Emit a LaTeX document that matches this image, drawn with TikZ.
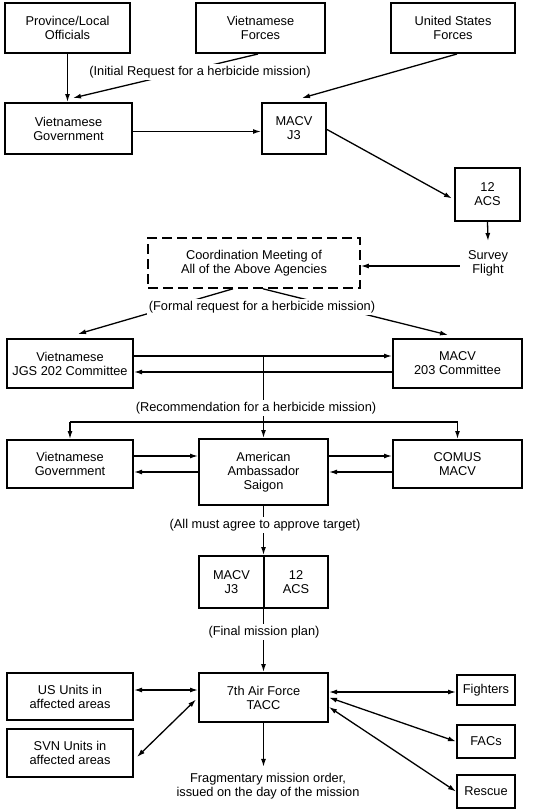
\documentclass[tikz,border=0pt]{standalone}
\usepackage{fontspec}
\setmainfont{Liberation Sans}
\usetikzlibrary{arrows.meta,calc}
\begin{document}
\begin{tikzpicture}[x=1pt,y=-1pt,
  every node/.style={font=\fontsize{12.8}{14}\selectfont, align=center},
  box/.style={draw, line width=2pt, inner sep=1pt},
  dbox/.style={draw, line width=1.6pt, dash pattern=on 10pt off 5pt, inner sep=1pt},
  lbl/.style={fill=white, inner sep=2pt},
  conn/.style={line width=1.3pt},
  arr/.style={conn, -{Latex[length=8pt,width=5pt]}},
  darr/.style={conn, {Latex[length=8pt,width=5pt]}-{Latex[length=8pt,width=5pt]}}
]
\useasboundingbox (0,0) rectangle (548,811);
% boxes
\node[box, minimum width=125, minimum height=50] (pl) at (67.5,28) {Province/Local\\Officials};
\node[box, minimum width=129, minimum height=50] (vf) at (260.5,28) {Vietnamese\\Forces};
\node[box, minimum width=124, minimum height=50] (us) at (453,28) {United States\\Forces};
\node[box, minimum width=127, minimum height=51] (vg1) at (68.5,128.5) {Vietnamese\\Government};
\node[box, minimum width=64, minimum height=51] (j3) at (294,128.5) {MACV\\J3};
\node[box, minimum width=65, minimum height=53] (acs) at (487.5,194.5) {12\\ACS};
\node[inner xsep=8pt, inner ysep=9pt] (sf) at (488,263) {Survey\\Flight};
\node[dbox, minimum width=212, minimum height=50] (cm) at (254,263) {Coordination Meeting of\\All of the Above Agencies};
\node[box, minimum width=126, minimum height=49] (jgs) at (70,363.5) {Vietnamese\\JGS 202 Committee};
\node[box, minimum width=129, minimum height=49] (m203) at (457.5,363.5) {MACV\\203 Committee};
\node[box, minimum width=126, minimum height=48] (vg2) at (70,464) {Vietnamese\\Government};
\node[box, minimum width=129, minimum height=66] (amb) at (263.5,472) {American\\Ambassador\\Saigon};
\node[box, minimum width=129, minimum height=48] (com) at (457.5,464) {COMUS\\MACV};
\node[box, minimum width=65, minimum height=52] (mjL) at (231.5,582) {MACV\\J3};
\node[box, minimum width=64, minimum height=52] (mjR) at (296,582) {12\\ACS};
\node[box, minimum width=129, minimum height=49] (af) at (263.5,697.5) {7th Air Force\\TACC};
\node[box, minimum width=126, minimum height=47] (usu) at (70,696.5) {US Units in\\affected areas};
\node[box, minimum width=126, minimum height=48] (svn) at (70,753) {SVN Units in\\affected areas};
\node[box, minimum width=58, minimum height=30] (fig) at (486,690) {Fighters};
\node[box, minimum width=58, minimum height=33] (fac) at (486,741.5) {FACs};
\node[box, minimum width=58, minimum height=33] (res) at (486,791.5) {Rescue};
\node[inner ysep=6pt] (frag) at (268,786) {Fragmentary mission order,\\issued on the day of the mission};
% connectors
\draw[arr] (pl.south) -- (pl.south |- vg1.north);
\draw[arr] ($(vf.south)+(-2.5,0)$) -- ($(vg1.north)+(4.5,-4)$);
\draw[arr] ($(us.south)+(4,0)$) -- ($(j3.north)+(8,-4)$);
\draw[arr] ([yshift=-3]vg1.east) -- ([yshift=-3]vg1.east -| j3.west);
\draw[arr] ([yshift=-1]j3.east) -- ([xshift=-2,yshift=-4]acs.west);
\draw[arr] (acs.south) -- (sf.north);
\draw[arr] ([yshift=-3]sf.west) -- ([yshift=-3]sf.west -| cm.east);
\draw[arr] ($(cm.south)+(-21,0)$) -- ($(jgs.north)+(8,-4)$);
\draw[arr] ($(cm.south)+(9,0)$) -- ($(m203.north)+(-9.5,-3)$);
\draw[arr] ([yshift=7.5]jgs.east) -- ([yshift=7.5]jgs.east -| m203.west);
\draw[arr] ([yshift=-8.5]m203.west) -- ([yshift=-8.5]m203.west -| jgs.east);
\coordinate (rec) at (263.5,356);
\coordinate (br) at (263.5,422);
\draw[conn] (vg2.north |- br) -- (com.north |- br);
\draw[arr] (rec) -- (rec |- amb.north);
\draw[arr] (vg2.north |- br) -- (vg2.north);
\draw[arr] (com.north |- br) -- (com.north);
\draw[arr] ([yshift=8]vg2.east) -- ([yshift=8]vg2.east -| amb.west);
\draw[arr] ([yshift=-8]amb.west |- vg2.east) -- ([yshift=-8]vg2.east);
\draw[arr] ([yshift=8]amb.east |- com.west) -- ([yshift=8]com.west);
\draw[arr] ([yshift=-8]com.west) -- ([yshift=-8]com.west -| amb.east);
\draw[arr] (amb.south) -- (amb.south |- mjL.north);
\draw[arr] (amb.south |- mjL.south) -- (af.north);
\draw[darr] ([yshift=6.5]usu.east) -- ([yshift=6.5]usu.east -| af.west);
\draw[darr] ([xshift=3,yshift=-4]svn.east) -- ([xshift=-2,yshift=-2]af.west);
\draw[darr] ([yshift=5.5]af.east) -- ([yshift=5.5]af.east -| fig.west);
\draw[darr] (af.east) -- (fac.west);
\draw[darr] ([yshift=-9.5]af.east) -- (res.west);
\draw[arr] (af.south) -- (af.south |- frag.north);
% labels on top of connectors
\node[lbl] (l1) at (200,72) {(Initial Request for a herbicide mission)};
\node[lbl] (l2) at (262,307) {(Formal request for a herbicide mission)};
\node[lbl] (l3) at (256,408) {(Recommendation for a herbicide mission)};
\node[lbl] (l4) at (265,525) {(All must agree to approve target)};
\node[lbl] (l5) at (264,632) {(Final mission plan)};
\end{tikzpicture}
\end{document}
